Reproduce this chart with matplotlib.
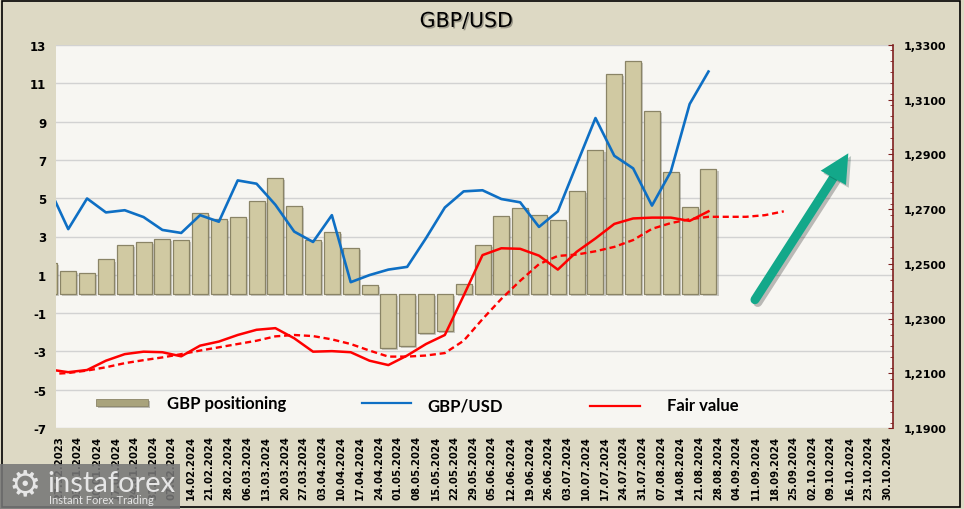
import matplotlib
matplotlib.use("Agg")
import matplotlib.pyplot as plt
import matplotlib.patheffects as pe
from matplotlib.patches import Rectangle, Polygon
from matplotlib.lines import Line2D
from matplotlib.ticker import FixedLocator, MultipleLocator, FuncFormatter

plt.rcParams["axes.unicode_minus"] = False

# weekly tick labels
dates = ["27.12.2023", "03.01.2024", "10.01.2024", "17.01.2024", "24.01.2024",
         "31.01.2024", "07.02.2024", "14.02.2024", "21.02.2024", "28.02.2024",
         "06.03.2024", "13.03.2024", "20.03.2024", "27.03.2024", "03.04.2024",
         "10.04.2024", "17.04.2024", "24.04.2024", "01.05.2024", "08.05.2024",
         "15.05.2024", "22.05.2024", "29.05.2024", "05.06.2024", "12.06.2024",
         "19.06.2024", "26.06.2024", "03.07.2024", "10.07.2024", "17.07.2024",
         "24.07.2024", "31.07.2024", "07.08.2024", "14.08.2024", "21.08.2024",
         "28.08.2024", "04.09.2024", "11.09.2024", "18.09.2024", "25.09.2024",
         "02.10.2024", "09.10.2024", "16.10.2024", "23.10.2024", "30.10.2024"]

# GBP net positioning (bn), left axis
positioning = [1.6, 1.21, 1.09, 1.8, 2.58, 2.7, 2.85, 2.81, 4.23, 3.9,
               4.0, 4.84, 6.05, 4.58, 2.84, 3.26, 2.38, 0.47, -2.84, -2.73,
               -2.04, -1.92, 0.52, 2.58, 4.05, 4.49, 4.14, 3.87, 5.39, 7.52,
               11.49, 12.16, 9.55, 6.35, 4.56, 6.55]

# GBP/USD, right axis
gbpusd = [1.2775, 1.2627, 1.2739, 1.2688, 1.2696, 1.2671, 1.2624, 1.2613, 1.2678, 1.2654,
          1.2805, 1.2793, 1.2716, 1.2618, 1.2580, 1.2678, 1.2433, 1.2459, 1.2479, 1.2489,
          1.2594, 1.2706, 1.2765, 1.2769, 1.2737, 1.2725, 1.2635, 1.2692, 1.2863, 1.3033,
          1.2895, 1.2849, 1.2713, 1.2837, 1.3084, 1.3203]

# fair value, right axis
fair_value = [1.2114, 1.2104, 1.2112, 1.2146, 1.2170, 1.2179, 1.2177, 1.2162, 1.2201, 1.2216,
              1.2240, 1.2259, 1.2265, 1.2228, 1.2179, 1.2181, 1.2177, 1.2146, 1.2130, 1.2165,
              1.2207, 1.2240, 1.2384, 1.2532, 1.2557, 1.2555, 1.2530, 1.2479, 1.2544, 1.2593,
              1.2646, 1.2666, 1.2669, 1.2669, 1.2657, 1.2692]

# fair value trend (dashed), runs a few weeks past the last point
fair_trend = [1.2097, 1.2101, 1.2110, 1.2122, 1.2137, 1.2148, 1.2158, 1.2170, 1.2183, 1.2195,
              1.2207, 1.2219, 1.2235, 1.2240, 1.2236, 1.2224, 1.2207, 1.2183, 1.2161, 1.2161,
              1.2165, 1.2174, 1.2219, 1.2298, 1.2372, 1.2438, 1.2499, 1.2529, 1.2534, 1.2546,
              1.2562, 1.2587, 1.2628, 1.2649, 1.2663, 1.2672, 1.2672, 1.2672, 1.2678, 1.2692]

BEIGE = "#DDD9C4"
PLOT_BG = "#F7F6F2"

fig = plt.figure(figsize=(9.64, 5.10), dpi=100, facecolor=BEIGE)
ax = fig.add_axes([56 / 964, 81 / 510, 837 / 964, 383 / 510])
ax.set_facecolor(PLOT_BG)
ax2 = ax.twinx()

x_bars = list(range(len(positioning)))
ax.bar(x_bars, positioning, width=0.85, color="#D0C9A2", edgecolor="#8A8466",
       linewidth=0.9, zorder=2,
       path_effects=[pe.SimplePatchShadow(offset=(1.5, -1.5), alpha=0.25), pe.Normal()])

ax.set_ylim(-7, 13)
ax.set_yticks(range(-7, 14, 2))
ax.grid(axis="y", color="#D2D2D2", linewidth=1, zorder=0)
ax.set_axisbelow(True)
ax.set_xlim(0.35, 44.8)
ax.set_xticks([j + 0.5 for j in range(len(dates))])
ax.set_xticklabels(dates, rotation=90, fontsize=7.3, fontweight="bold")
ax.tick_params(axis="x", length=0, pad=5)
ax.tick_params(axis="y", length=0, pad=7, labelsize=8.5)
for lab in ax.get_yticklabels():
    lab.set_fontweight("bold")
for s in ax.spines.values():
    s.set_visible(False)

ax2.plot(range(len(gbpusd)), gbpusd, color="#0E6FC4", linewidth=1.9, zorder=3)
ax2.plot(range(len(fair_value)), fair_value, color="#FF0000", linewidth=1.8, zorder=4)
ax2.plot(range(len(fair_trend)), fair_trend, color="#FF0000", linewidth=1.7,
         linestyle=(0, (2.6, 1.6)), zorder=4)
ax2.set_ylim(1.19, 1.33)
ax2.yaxis.set_major_locator(FixedLocator([1.19 + 0.02 * i for i in range(8)]))
ax2.yaxis.set_minor_locator(MultipleLocator(0.004))
ax2.yaxis.set_major_formatter(FuncFormatter(lambda v, p: f"{v:.4f}".replace(".", ",")))
ax2.tick_params(axis="y", which="major", direction="in", length=3.5, color="#7F1F1F",
                pad=8, labelsize=8)
ax2.tick_params(axis="y", which="minor", direction="in", length=2.5, color="#7F1F1F")
for lab in ax2.get_yticklabels():
    lab.set_fontweight("bold")
for name, s in ax2.spines.items():
    s.set_visible(name == "right")
ax2.spines["right"].set_color("#7F1F1F")
ax2.spines["right"].set_linewidth(1.2)

# green arrow
shaft = Line2D([0.8351, 0.9287], [0.3350, 0.6533], transform=ax2.transAxes,
               color="#13A88A", linewidth=6.5, solid_capstyle="round", zorder=5,
               path_effects=[pe.SimpleLineShadow(offset=(2, -2), alpha=0.25), pe.Normal()])
ax2.add_line(shaft)
head = Polygon([[0.9466, 0.7172], [0.9136, 0.6718], [0.9438, 0.6345]], closed=True,
               transform=ax2.transAxes, facecolor="#13A88A", edgecolor="none", zorder=5,
               path_effects=[pe.SimplePatchShadow(offset=(2, -2), alpha=0.25), pe.Normal()])
ax2.add_patch(head)

# legend
leg_font = dict(family="Lato", fontweight="bold", fontsize=12, va="center",
                transform=ax2.transAxes, zorder=6)
ax2.add_patch(Rectangle((0.0478, 0.0587), 0.0621, 0.0183, transform=ax2.transAxes,
                        facecolor="#A9A37C", edgecolor="#8A8466", linewidth=0.6, zorder=6,
                        path_effects=[pe.SimplePatchShadow(offset=(1.5, -2), alpha=0.3),
                                      pe.Normal()]))
ax2.text(0.1323, 0.0653, "GBP positioning", **leg_font)
ax2.add_line(Line2D([0.366, 0.4241], [0.0645, 0.0645], transform=ax2.transAxes,
                    color="#0E6FC4", linewidth=1.6, zorder=6))
ax2.text(0.4436, 0.0582, "GBP/USD", **leg_font)
ax2.add_line(Line2D([0.638, 0.6977], [0.0582, 0.0582], transform=ax2.transAxes,
                    color="#FF0000", linewidth=1.6, zorder=6))
ax2.text(0.7303, 0.0608, "Fair value", **leg_font)

# title
fig.text(466 / 964, 1 - 22 / 510, "GBP/USD", ha="center", va="center", fontsize=14.8,
         path_effects=[pe.SimplePatchShadow(offset=(1, -1), alpha=0.3), pe.Normal()])

# outer frame
fig.add_artist(Rectangle((2 / 964, 2 / 510), 958 / 964, 506 / 510, transform=fig.transFigure,
                         fill=False, edgecolor="black", linewidth=1.2))

# watermark
fig.add_artist(Rectangle((0, 0), 180 / 964, 45 / 510, transform=fig.transFigure,
                         facecolor="#777777", alpha=0.88, edgecolor="none", zorder=10))
fig.text(25 / 964, 1 - 485 / 510, "\u2699", ha="center", va="center", fontsize=26,
         color="#E6E6E6", zorder=11)
fig.text(47 / 964, 1 - 484 / 510, "instaforex", ha="left", va="center", fontsize=21,
         family="Lato", color="#E6E6E6", zorder=11)
fig.text(49 / 964, 1 - 501 / 510, "Instant Forex Trading", ha="left", va="center",
         fontsize=8, family="Lato", color="#E6E6E6", zorder=11)

fig.savefig("out.png", dpi=100, facecolor=BEIGE)
